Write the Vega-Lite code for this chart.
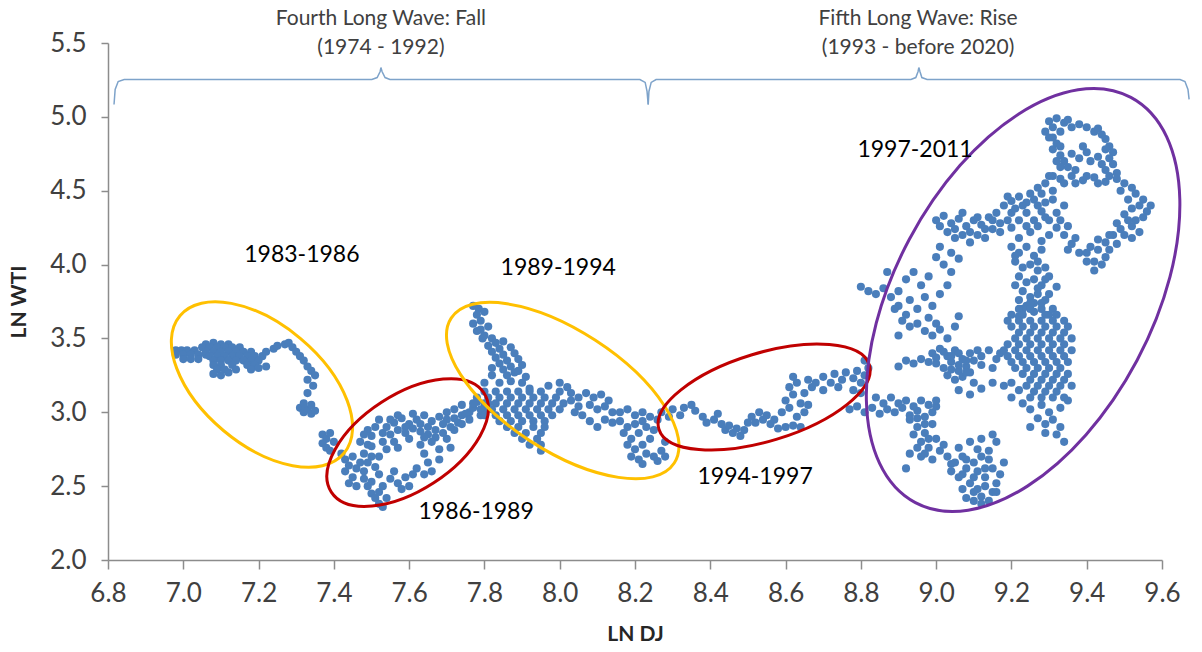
{
  "$schema": "https://vega.github.io/schema/vega-lite/v6.json",
  "width": 1054,
  "height": 517,
  "autosize": {"type": "none"},
  "padding": {"left": 108, "top": 43, "right": 40, "bottom": 92},
  "background": "white",
  "config": {"view": {"stroke": null}, "font": "Lato"},
  "encoding": {
    "x": {"field": "dj", "type": "quantitative", "title": "LN DJ",
      "scale": {"domain": [6.8, 9.6], "nice": false, "zero": false},
      "axis": {"values": [6.8, 7.0, 7.2, 7.4, 7.6, 7.8, 8.0, 8.2, 8.4, 8.6, 8.8, 9.0, 9.2, 9.4, 9.6], "format": ".1f", "grid": false,
        "domainColor": "#8c8c8c", "domainWidth": 1.5, "tickColor": "#8c8c8c", "tickWidth": 1.5, "tickSize": 9,
        "labelFontSize": 26, "labelColor": "#404040", "labelPadding": 11, "labelOverlap": false, "labelFlush": false, "labelFont": "Lato",
        "titleFontSize": 21, "titleFontWeight": "bold", "titleColor": "#262626", "titlePadding": 17, "titleFont": "Lato"}},
    "y": {"field": "wti", "type": "quantitative", "title": "LN WTI",
      "scale": {"domain": [2.0, 5.5], "nice": false, "zero": false},
      "axis": {"values": [2.0, 2.5, 3.0, 3.5, 4.0, 4.5, 5.0, 5.5], "format": ".1f", "grid": false,
        "domainColor": "#8c8c8c", "domainWidth": 1.5, "tickColor": "#8c8c8c", "tickWidth": 1.5, "tickSize": 7,
        "labelFontSize": 26, "labelColor": "#404040", "labelPadding": 15, "labelOverlap": false, "labelFlush": false, "labelFont": "Lato",
        "titleFontSize": 21, "titleFontWeight": "bold", "titleColor": "#262626", "titlePadding": 20, "titleFont": "Lato"}}
  },
  "layer": [
    {
      "data": {"values": [
        {"dj":6.98,"wti":3.42},{"dj":6.995,"wti":3.42},{"dj":7.01,"wti":3.42},{"dj":7.03,"wti":3.42},
        {"dj":6.98,"wti":3.39},{"dj":7.0,"wti":3.39},{"dj":7.02,"wti":3.39},{"dj":7.04,"wti":3.39},{"dj":7.06,"wti":3.39},
        {"dj":7.0,"wti":3.36},{"dj":7.02,"wti":3.36},{"dj":7.04,"wti":3.36},
        {"dj":7.06,"wti":3.46},{"dj":7.08,"wti":3.47},{"dj":7.1,"wti":3.46},{"dj":7.12,"wti":3.46},
        {"dj":7.05,"wti":3.44},{"dj":7.07,"wti":3.44},{"dj":7.09,"wti":3.44},{"dj":7.11,"wti":3.44},{"dj":7.13,"wti":3.44},{"dj":7.15,"wti":3.44},
        {"dj":7.06,"wti":3.41},{"dj":7.08,"wti":3.41},{"dj":7.1,"wti":3.41},{"dj":7.12,"wti":3.41},{"dj":7.14,"wti":3.41},{"dj":7.16,"wti":3.41},{"dj":7.18,"wti":3.41},
        {"dj":7.07,"wti":3.38},{"dj":7.09,"wti":3.38},{"dj":7.11,"wti":3.38},{"dj":7.13,"wti":3.38},{"dj":7.15,"wti":3.38},{"dj":7.17,"wti":3.38},{"dj":7.19,"wti":3.38},{"dj":7.21,"wti":3.38},
        {"dj":7.08,"wti":3.35},{"dj":7.1,"wti":3.35},{"dj":7.12,"wti":3.35},{"dj":7.14,"wti":3.35},{"dj":7.16,"wti":3.35},{"dj":7.18,"wti":3.35},{"dj":7.2,"wti":3.35},
        {"dj":7.08,"wti":3.32},{"dj":7.1,"wti":3.32},{"dj":7.13,"wti":3.32},{"dj":7.17,"wti":3.32},{"dj":7.19,"wti":3.32},
        {"dj":7.09,"wti":3.29},{"dj":7.11,"wti":3.29},{"dj":7.18,"wti":3.29},{"dj":7.2,"wti":3.3},{"dj":7.22,"wti":3.31},
        {"dj":7.08,"wti":3.26},{"dj":7.1,"wti":3.25},{"dj":7.12,"wti":3.27},{"dj":7.14,"wti":3.29},
        {"dj":7.22,"wti":3.41},{"dj":7.24,"wti":3.43},{"dj":7.25,"wti":3.45},{"dj":7.27,"wti":3.46},{"dj":7.28,"wti":3.47},{"dj":7.29,"wti":3.44},{"dj":7.3,"wti":3.41},{"dj":7.31,"wti":3.38},{"dj":7.32,"wti":3.35},{"dj":7.33,"wti":3.31},{"dj":7.34,"wti":3.28},{"dj":7.35,"wti":3.25},{"dj":7.33,"wti":3.22},{"dj":7.345,"wti":3.18},{"dj":7.33,"wti":3.13},
        {"dj":7.31,"wti":3.03},{"dj":7.32,"wti":3.0},{"dj":7.33,"wti":3.02},{"dj":7.34,"wti":2.99},{"dj":7.35,"wti":3.01},{"dj":7.32,"wti":3.06},{"dj":7.34,"wti":3.05},
        {"dj":7.37,"wti":2.85},{"dj":7.38,"wti":2.82},{"dj":7.39,"wti":2.86},{"dj":7.37,"wti":2.79},{"dj":7.38,"wti":2.76},{"dj":7.4,"wti":2.8},{"dj":7.39,"wti":2.74},

        {"dj":7.42,"wti":2.72},{"dj":7.43,"wti":2.68},{"dj":7.44,"wti":2.64},{"dj":7.43,"wti":2.6},{"dj":7.45,"wti":2.56},{"dj":7.44,"wti":2.52},{"dj":7.46,"wti":2.5},{"dj":7.45,"wti":2.7},{"dj":7.46,"wti":2.62},
        {"dj":7.48,"wti":2.55},{"dj":7.49,"wti":2.5},{"dj":7.5,"wti":2.45},{"dj":7.51,"wti":2.42},{"dj":7.52,"wti":2.38},{"dj":7.53,"wti":2.36},{"dj":7.52,"wti":2.46},{"dj":7.54,"wti":2.42},{"dj":7.5,"wti":2.53},{"dj":7.53,"wti":2.5},
        {"dj":7.47,"wti":2.66},{"dj":7.48,"wti":2.72},{"dj":7.49,"wti":2.78},{"dj":7.5,"wti":2.84},{"dj":7.51,"wti":2.9},{"dj":7.52,"wti":2.95},{"dj":7.47,"wti":2.8},{"dj":7.49,"wti":2.88},{"dj":7.5,"wti":2.7},{"dj":7.51,"wti":2.63},{"dj":7.52,"wti":2.58},
        {"dj":7.48,"wti":2.6},{"dj":7.49,"wti":2.66},{"dj":7.5,"wti":2.77},{"dj":7.48,"wti":2.85},{"dj":7.52,"wti":2.7},{"dj":7.54,"wti":2.75},{"dj":7.57,"wti":2.76},{"dj":7.53,"wti":2.86},
        {"dj":7.54,"wti":2.9},{"dj":7.56,"wti":2.93},{"dj":7.58,"wti":2.96},{"dj":7.6,"wti":2.92},{"dj":7.62,"wti":2.95},{"dj":7.64,"wti":2.98},{"dj":7.66,"wti":2.94},{"dj":7.68,"wti":2.97},{"dj":7.7,"wti":3.0},{"dj":7.72,"wti":2.96},
        {"dj":7.55,"wti":2.95},{"dj":7.57,"wti":2.98},{"dj":7.59,"wti":2.9},{"dj":7.61,"wti":2.99},{"dj":7.63,"wti":2.92},{"dj":7.65,"wti":2.85},{"dj":7.67,"wti":2.83},{"dj":7.69,"wti":2.86},{"dj":7.7,"wti":2.95},{"dj":7.72,"wti":2.88},{"dj":7.74,"wti":2.98},{"dj":7.76,"wti":3.0},
        {"dj":7.55,"wti":2.85},{"dj":7.57,"wti":2.88},{"dj":7.59,"wti":2.86},{"dj":7.61,"wti":2.89},{"dj":7.63,"wti":2.87},{"dj":7.65,"wti":2.9},{"dj":7.67,"wti":2.88},{"dj":7.69,"wti":2.92},{"dj":7.71,"wti":2.9},{"dj":7.73,"wti":2.93},
        {"dj":7.53,"wti":2.8},{"dj":7.56,"wti":2.8},{"dj":7.6,"wti":2.82},{"dj":7.64,"wti":2.83},
        {"dj":7.63,"wti":2.78},{"dj":7.64,"wti":2.72},{"dj":7.65,"wti":2.66},{"dj":7.66,"wti":2.6},{"dj":7.66,"wti":2.8},{"dj":7.68,"wti":2.75},{"dj":7.68,"wti":2.68},{"dj":7.7,"wti":2.82},{"dj":7.71,"wti":2.76},{"dj":7.64,"wti":2.58},{"dj":7.62,"wti":2.62},
        {"dj":7.55,"wti":2.55},{"dj":7.57,"wti":2.52},{"dj":7.59,"wti":2.56},{"dj":7.61,"wti":2.58},{"dj":7.56,"wti":2.6},{"dj":7.58,"wti":2.48},{"dj":7.6,"wti":2.5},
        {"dj":7.72,"wti":3.02},{"dj":7.74,"wti":3.05},{"dj":7.75,"wti":2.99},{"dj":7.77,"wti":3.03},{"dj":7.78,"wti":3.07},{"dj":7.8,"wti":3.02},{"dj":7.76,"wti":2.95},{"dj":7.79,"wti":2.98},{"dj":7.81,"wti":3.06},{"dj":7.74,"wti":2.92},

        {"dj":7.77,"wti":3.72},{"dj":7.785,"wti":3.7},{"dj":7.78,"wti":3.66},{"dj":7.79,"wti":3.62},{"dj":7.8,"wti":3.68},{"dj":7.77,"wti":3.6},{"dj":7.79,"wti":3.56},{"dj":7.81,"wti":3.58},{"dj":7.8,"wti":3.52},{"dj":7.82,"wti":3.5},
        {"dj":7.81,"wti":3.45},{"dj":7.83,"wti":3.47},{"dj":7.82,"wti":3.41},{"dj":7.84,"wti":3.43},{"dj":7.83,"wti":3.37},{"dj":7.85,"wti":3.39},{"dj":7.84,"wti":3.33},{"dj":7.86,"wti":3.35},{"dj":7.85,"wti":3.29},{"dj":7.87,"wti":3.31},
        {"dj":7.86,"wti":3.25},{"dj":7.88,"wti":3.27},{"dj":7.87,"wti":3.21},{"dj":7.78,"wti":3.55},{"dj":7.795,"wti":3.5},{"dj":7.82,"wti":3.3},{"dj":7.8,"wti":3.2},{"dj":7.84,"wti":3.2},{"dj":7.82,"wti":3.25},
        {"dj":7.85,"wti":3.48},{"dj":7.87,"wti":3.44},{"dj":7.88,"wti":3.4},{"dj":7.89,"wti":3.36},{"dj":7.9,"wti":3.32},{"dj":7.89,"wti":3.28},{"dj":7.91,"wti":3.24},{"dj":7.9,"wti":3.2},{"dj":7.92,"wti":3.16},
        {"dj":7.8,"wti":3.14},{"dj":7.83,"wti":3.14},{"dj":7.86,"wti":3.14},{"dj":7.89,"wti":3.14},{"dj":7.92,"wti":3.14},{"dj":7.95,"wti":3.14},
        {"dj":7.78,"wti":3.1},{"dj":7.81,"wti":3.1},{"dj":7.84,"wti":3.1},{"dj":7.87,"wti":3.1},{"dj":7.9,"wti":3.1},{"dj":7.93,"wti":3.1},{"dj":7.96,"wti":3.1},{"dj":7.99,"wti":3.1},
        {"dj":7.77,"wti":3.06},{"dj":7.8,"wti":3.06},{"dj":7.83,"wti":3.06},{"dj":7.86,"wti":3.06},{"dj":7.89,"wti":3.06},{"dj":7.92,"wti":3.06},{"dj":7.95,"wti":3.06},{"dj":7.98,"wti":3.06},{"dj":8.01,"wti":3.06},
        {"dj":7.79,"wti":3.02},{"dj":7.82,"wti":3.02},{"dj":7.85,"wti":3.02},{"dj":7.88,"wti":3.02},{"dj":7.91,"wti":3.02},{"dj":7.94,"wti":3.02},{"dj":7.97,"wti":3.02},{"dj":8.0,"wti":3.02},
        {"dj":7.8,"wti":2.98},{"dj":7.83,"wti":2.98},{"dj":7.86,"wti":2.98},{"dj":7.89,"wti":2.98},{"dj":7.92,"wti":2.98},{"dj":7.95,"wti":2.98},{"dj":7.98,"wti":2.98},
        {"dj":7.84,"wti":2.94},{"dj":7.87,"wti":2.94},{"dj":7.9,"wti":2.94},{"dj":7.93,"wti":2.94},{"dj":7.96,"wti":2.94},
        {"dj":7.86,"wti":2.9},{"dj":7.89,"wti":2.9},{"dj":7.93,"wti":2.9},{"dj":7.96,"wti":2.9},
        {"dj":7.88,"wti":2.86},{"dj":7.91,"wti":2.86},{"dj":7.95,"wti":2.86},{"dj":7.9,"wti":2.82},{"dj":7.94,"wti":2.82},{"dj":7.92,"wti":2.78},{"dj":7.95,"wti":2.78},{"dj":7.95,"wti":2.74},
        {"dj":7.97,"wti":3.18},{"dj":8.0,"wti":3.2},{"dj":8.02,"wti":3.17},{"dj":8.03,"wti":3.13},{"dj":8.0,"wti":3.14},{"dj":8.03,"wti":3.08},
        {"dj":8.05,"wti":3.1},{"dj":8.07,"wti":3.13},{"dj":8.09,"wti":3.1},{"dj":8.11,"wti":3.12},{"dj":8.13,"wti":3.08},{"dj":8.05,"wti":3.04},{"dj":8.08,"wti":3.05},{"dj":8.1,"wti":3.02},{"dj":8.12,"wti":3.04},{"dj":8.14,"wti":3.0},
        {"dj":8.06,"wti":2.98},{"dj":8.08,"wti":2.94},{"dj":8.1,"wti":2.9},{"dj":8.12,"wti":2.95},{"dj":8.14,"wti":2.93},{"dj":8.04,"wti":3.0},
        {"dj":8.16,"wti":3.0},{"dj":8.18,"wti":3.02},{"dj":8.2,"wti":2.98},{"dj":8.22,"wti":3.0},{"dj":8.24,"wti":2.97},{"dj":8.16,"wti":2.94},{"dj":8.18,"wti":2.9},{"dj":8.2,"wti":2.92},{"dj":8.22,"wti":2.94},{"dj":8.26,"wti":2.95},
        {"dj":8.17,"wti":2.86},{"dj":8.19,"wti":2.82},{"dj":8.21,"wti":2.86},{"dj":8.23,"wti":2.9},{"dj":8.25,"wti":2.88},{"dj":8.18,"wti":2.78},{"dj":8.2,"wti":2.75},{"dj":8.22,"wti":2.78},{"dj":8.24,"wti":2.82},
        {"dj":8.19,"wti":2.7},{"dj":8.21,"wti":2.68},{"dj":8.23,"wti":2.72},{"dj":8.25,"wti":2.7},{"dj":8.27,"wti":2.74},{"dj":8.22,"wti":2.65},{"dj":8.26,"wti":2.67},{"dj":8.28,"wti":2.8},{"dj":8.28,"wti":2.7},

        {"dj":8.27,"wti":3.0},{"dj":8.29,"wti":2.97},{"dj":8.3,"wti":3.02},{"dj":8.32,"wti":2.98},{"dj":8.33,"wti":3.03},{"dj":8.35,"wti":3.05},{"dj":8.36,"wti":3.01},{"dj":8.38,"wti":2.97},{"dj":8.39,"wti":2.93},{"dj":8.41,"wti":2.95},
        {"dj":8.42,"wti":2.99},{"dj":8.43,"wti":2.92},{"dj":8.44,"wti":2.88},{"dj":8.45,"wti":2.91},{"dj":8.46,"wti":2.86},{"dj":8.47,"wti":2.89},{"dj":8.48,"wti":2.84},{"dj":8.49,"wti":2.88},{"dj":8.5,"wti":2.93},{"dj":8.51,"wti":2.97},
        {"dj":8.52,"wti":2.93},{"dj":8.53,"wti":3.0},{"dj":8.54,"wti":2.95},{"dj":8.55,"wti":2.98},{"dj":8.56,"wti":2.92},{"dj":8.57,"wti":2.95},
        {"dj":8.58,"wti":2.89},{"dj":8.6,"wti":2.9},{"dj":8.62,"wti":2.91},{"dj":8.64,"wti":2.9},
        {"dj":8.59,"wti":3.0},{"dj":8.61,"wti":3.03},{"dj":8.6,"wti":3.08},{"dj":8.62,"wti":3.12},{"dj":8.61,"wti":3.17},{"dj":8.63,"wti":3.2},{"dj":8.64,"wti":3.06},{"dj":8.65,"wti":3.13},{"dj":8.66,"wti":3.22},{"dj":8.63,"wti":2.97},{"dj":8.65,"wti":3.0},{"dj":8.67,"wti":3.17},{"dj":8.62,"wti":3.24},{"dj":8.66,"wti":3.05},
        {"dj":8.68,"wti":3.2},{"dj":8.7,"wti":3.24},{"dj":8.72,"wti":3.2},{"dj":8.73,"wti":3.26},{"dj":8.75,"wti":3.22},{"dj":8.76,"wti":3.27},{"dj":8.78,"wti":3.23},{"dj":8.79,"wti":3.28},{"dj":8.81,"wti":3.25},{"dj":8.8,"wti":3.2},{"dj":8.82,"wti":3.3},{"dj":8.81,"wti":3.35},
        {"dj":8.7,"wti":3.15},{"dj":8.74,"wti":3.17},{"dj":8.78,"wti":3.15},{"dj":8.8,"wti":3.13},
        {"dj":8.77,"wti":3.02},{"dj":8.79,"wti":3.04},{"dj":8.81,"wti":3.0},{"dj":8.83,"wti":3.03},{"dj":8.85,"wti":2.99},{"dj":8.87,"wti":3.02},{"dj":8.89,"wti":3.0},{"dj":8.91,"wti":3.03},{"dj":8.93,"wti":2.98},{"dj":8.95,"wti":3.01},{"dj":8.97,"wti":2.97},{"dj":8.99,"wti":3.0},{"dj":9.0,"wti":3.04},

        {"dj":9.3,"wti":4.97},{"dj":9.32,"wti":4.99},{"dj":9.34,"wti":4.96},{"dj":9.31,"wti":4.93},{"dj":9.29,"wti":4.9},{"dj":9.3,"wti":4.86},{"dj":9.32,"wti":4.82},{"dj":9.31,"wti":4.78},{"dj":9.33,"wti":4.74},{"dj":9.34,"wti":4.7},
        {"dj":9.36,"wti":4.93},{"dj":9.38,"wti":4.95},{"dj":9.4,"wti":4.93},{"dj":9.42,"wti":4.9},{"dj":9.44,"wti":4.88},{"dj":9.45,"wti":4.85},{"dj":9.46,"wti":4.8},{"dj":9.47,"wti":4.76},{"dj":9.46,"wti":4.72},{"dj":9.47,"wti":4.68},
        {"dj":9.45,"wti":4.64},{"dj":9.48,"wti":4.62},{"dj":9.36,"wti":4.75},{"dj":9.38,"wti":4.72},{"dj":9.4,"wti":4.76},{"dj":9.39,"wti":4.8},{"dj":9.43,"wti":4.73},{"dj":9.35,"wti":4.66},{"dj":9.37,"wti":4.64},
        {"dj":9.33,"wti":4.9},{"dj":9.31,"wti":4.86},{"dj":9.33,"wti":4.8},{"dj":9.35,"wti":4.98},{"dj":9.43,"wti":4.92},{"dj":9.45,"wti":4.78},{"dj":9.44,"wti":4.68},{"dj":9.41,"wti":4.7},{"dj":9.33,"wti":4.66},{"dj":9.32,"wti":4.7},
        {"dj":9.3,"wti":4.6},{"dj":9.33,"wti":4.58},{"dj":9.36,"wti":4.6},{"dj":9.39,"wti":4.57},{"dj":9.42,"wti":4.59},{"dj":9.45,"wti":4.56},{"dj":9.48,"wti":4.58},{"dj":9.5,"wti":4.55},{"dj":9.52,"wti":4.52},
        {"dj":9.53,"wti":4.48},{"dj":9.55,"wti":4.44},{"dj":9.54,"wti":4.4},{"dj":9.56,"wti":4.36},{"dj":9.55,"wti":4.32},{"dj":9.53,"wti":4.3},{"dj":9.5,"wti":4.34},{"dj":9.52,"wti":4.26},{"dj":9.54,"wti":4.22},{"dj":9.52,"wti":4.18},{"dj":9.5,"wti":4.2},{"dj":9.57,"wti":4.4},{"dj":9.48,"wti":4.28},
        {"dj":9.48,"wti":4.14},{"dj":9.46,"wti":4.1},{"dj":9.45,"wti":4.05},{"dj":9.44,"wti":4.0},{"dj":9.42,"wti":3.96},{"dj":9.4,"wti":4.02},{"dj":9.38,"wti":4.08},{"dj":9.41,"wti":4.12},{"dj":9.36,"wti":4.14},{"dj":9.35,"wti":4.1},{"dj":9.43,"wti":4.17},
        {"dj":9.31,"wti":4.6},{"dj":9.34,"wti":4.55},{"dj":9.37,"wti":4.55},{"dj":9.4,"wti":4.6},{"dj":9.43,"wti":4.55},{"dj":9.46,"wti":4.6},{"dj":9.49,"wti":4.5},{"dj":9.51,"wti":4.44},{"dj":9.52,"wti":4.38},{"dj":9.51,"wti":4.3},
        {"dj":9.49,"wti":4.24},{"dj":9.47,"wti":4.2},{"dj":9.45,"wti":4.15},{"dj":9.43,"wti":4.1},{"dj":9.4,"wti":4.08},{"dj":9.37,"wti":4.18},{"dj":9.42,"wti":4.02},{"dj":9.46,"wti":4.2},
        {"dj":9.18,"wti":4.4},{"dj":9.2,"wti":4.43},{"dj":9.22,"wti":4.46},{"dj":9.24,"wti":4.42},{"dj":9.26,"wti":4.44},{"dj":9.28,"wti":4.48},{"dj":9.27,"wti":4.52},{"dj":9.29,"wti":4.55},{"dj":9.31,"wti":4.5},{"dj":9.2,"wti":4.35},
        {"dj":9.22,"wti":4.3},{"dj":9.24,"wti":4.35},{"dj":9.26,"wti":4.3},{"dj":9.28,"wti":4.36},{"dj":9.3,"wti":4.3},{"dj":9.32,"wti":4.25},{"dj":9.34,"wti":4.2},{"dj":9.3,"wti":4.2},{"dj":9.25,"wti":4.22},{"dj":9.2,"wti":4.25},{"dj":9.28,"wti":4.16},{"dj":9.22,"wti":4.18},{"dj":9.32,"wti":4.35},{"dj":9.34,"wti":4.4},
        {"dj":9.19,"wti":4.46},{"dj":9.21,"wti":4.38},{"dj":9.23,"wti":4.4},{"dj":9.25,"wti":4.48},{"dj":9.27,"wti":4.4},{"dj":9.29,"wti":4.42},{"dj":9.31,"wti":4.44},{"dj":9.29,"wti":4.32},{"dj":9.27,"wti":4.26},{"dj":9.24,"wti":4.26},{"dj":9.33,"wti":4.3},{"dj":9.35,"wti":4.26},
        {"dj":9.0,"wti":4.3},{"dj":9.02,"wti":4.33},{"dj":9.04,"wti":4.28},{"dj":9.06,"wti":4.31},{"dj":9.08,"wti":4.26},{"dj":9.1,"wti":4.3},{"dj":9.12,"wti":4.27},{"dj":9.14,"wti":4.32},{"dj":9.16,"wti":4.35},
        {"dj":9.03,"wti":4.22},{"dj":9.05,"wti":4.18},{"dj":9.07,"wti":4.2},{"dj":9.09,"wti":4.15},{"dj":9.11,"wti":4.2},{"dj":9.13,"wti":4.18},{"dj":9.15,"wti":4.24},{"dj":9.17,"wti":4.28},{"dj":9.01,"wti":4.12},{"dj":9.04,"wti":4.08},{"dj":9.06,"wti":4.04},{"dj":9.0,"wti":4.05},{"dj":9.02,"wti":4.0},
        {"dj":9.01,"wti":4.26},{"dj":9.05,"wti":4.24},{"dj":9.09,"wti":4.22},{"dj":9.13,"wti":4.24},{"dj":9.17,"wti":4.22},{"dj":9.19,"wti":4.3},{"dj":9.15,"wti":4.3},{"dj":9.11,"wti":4.32},{"dj":9.07,"wti":4.35},
        {"dj":8.8,"wti":3.85},{"dj":8.82,"wti":3.82},{"dj":8.84,"wti":3.8},{"dj":8.86,"wti":3.84},{"dj":8.88,"wti":3.78},{"dj":8.9,"wti":3.82},{"dj":8.92,"wti":3.9},{"dj":8.94,"wti":3.95},{"dj":8.96,"wti":3.86},{"dj":8.98,"wti":3.92},
        {"dj":8.9,"wti":3.72},{"dj":8.93,"wti":3.76},{"dj":8.95,"wti":3.7},{"dj":8.97,"wti":3.78},{"dj":8.99,"wti":3.72},{"dj":9.01,"wti":3.8},{"dj":9.03,"wti":3.86},{"dj":8.98,"wti":3.64},{"dj":9.0,"wti":3.6},{"dj":8.92,"wti":3.66},{"dj":9.04,"wti":3.95},{"dj":8.87,"wti":3.95},
        {"dj":9.2,"wti":4.12},{"dj":9.22,"wti":4.08},{"dj":9.24,"wti":4.12},{"dj":9.26,"wti":4.06},{"dj":9.28,"wti":4.1},{"dj":9.21,"wti":4.02},{"dj":9.23,"wti":3.98},{"dj":9.25,"wti":4.0},{"dj":9.27,"wti":3.96},{"dj":9.22,"wti":3.92},
        {"dj":9.24,"wti":3.88},{"dj":9.26,"wti":3.9},{"dj":9.28,"wti":3.86},{"dj":9.23,"wti":3.82},{"dj":9.25,"wti":3.78},{"dj":9.27,"wti":3.8},{"dj":9.29,"wti":3.76},{"dj":9.24,"wti":3.72},{"dj":9.26,"wti":3.68},{"dj":9.28,"wti":3.7},
        {"dj":9.3,"wti":3.66},{"dj":9.22,"wti":3.65},{"dj":9.25,"wti":3.62},{"dj":9.3,"wti":3.92},{"dj":9.32,"wti":3.85},
        {"dj":9.21,"wti":4.06},{"dj":9.27,"wti":4.02},{"dj":9.29,"wti":3.98},{"dj":9.21,"wti":3.86},{"dj":9.27,"wti":3.84},{"dj":9.29,"wti":3.9},{"dj":9.22,"wti":3.76},{"dj":9.26,"wti":3.74},{"dj":9.3,"wti":3.8},{"dj":9.23,"wti":3.7},
        {"dj":8.89,"wti":3.7},{"dj":8.91,"wti":3.62},{"dj":8.93,"wti":3.58},{"dj":8.95,"wti":3.6},{"dj":8.97,"wti":3.55},{"dj":8.99,"wti":3.52},{"dj":9.01,"wti":3.56},{"dj":9.03,"wti":3.5},{"dj":9.05,"wti":3.58},{"dj":8.9,"wti":3.52},{"dj":9.06,"wti":3.65},
        {"dj":8.99,"wti":3.4},{"dj":9.01,"wti":3.43},{"dj":9.03,"wti":3.38},{"dj":9.05,"wti":3.42},{"dj":9.07,"wti":3.36},{"dj":9.09,"wti":3.4},{"dj":9.0,"wti":3.33},{"dj":9.02,"wti":3.3},{"dj":9.04,"wti":3.34},{"dj":9.06,"wti":3.28},
        {"dj":9.08,"wti":3.31},{"dj":9.1,"wti":3.35},{"dj":9.03,"wti":3.25},{"dj":9.05,"wti":3.22},{"dj":9.07,"wti":3.24},{"dj":9.09,"wti":3.27},{"dj":8.96,"wti":3.36},{"dj":8.94,"wti":3.33},{"dj":8.92,"wti":3.35},{"dj":8.9,"wti":3.31},
        {"dj":9.0,"wti":3.37},{"dj":9.02,"wti":3.41},{"dj":9.04,"wti":3.38},{"dj":9.06,"wti":3.4},{"dj":9.08,"wti":3.35},{"dj":9.04,"wti":3.29},{"dj":9.06,"wti":3.32},{"dj":9.08,"wti":3.27},{"dj":8.98,"wti":3.34},{"dj":9.11,"wti":3.42},
        {"dj":9.12,"wti":3.38},{"dj":9.14,"wti":3.42},{"dj":9.16,"wti":3.36},{"dj":9.12,"wti":3.32},{"dj":9.15,"wti":3.3},{"dj":9.17,"wti":3.4},
        {"dj":9.25,"wti":3.74},{"dj":9.28,"wti":3.74},
        {"dj":9.22,"wti":3.7},{"dj":9.25,"wti":3.7},{"dj":9.31,"wti":3.7},
        {"dj":9.2,"wti":3.66},{"dj":9.23,"wti":3.66},{"dj":9.29,"wti":3.66},{"dj":9.32,"wti":3.66},
        {"dj":9.19,"wti":3.62},{"dj":9.22,"wti":3.62},{"dj":9.28,"wti":3.62},{"dj":9.31,"wti":3.62},{"dj":9.34,"wti":3.62},
        {"dj":9.2,"wti":3.58},{"dj":9.23,"wti":3.58},{"dj":9.26,"wti":3.58},{"dj":9.29,"wti":3.58},{"dj":9.32,"wti":3.58},{"dj":9.35,"wti":3.58},
        {"dj":9.22,"wti":3.54},{"dj":9.25,"wti":3.54},{"dj":9.28,"wti":3.54},{"dj":9.31,"wti":3.54},{"dj":9.34,"wti":3.54},
        {"dj":9.21,"wti":3.5},{"dj":9.24,"wti":3.5},{"dj":9.27,"wti":3.5},{"dj":9.3,"wti":3.5},{"dj":9.33,"wti":3.5},{"dj":9.36,"wti":3.5},
        {"dj":9.19,"wti":3.46},{"dj":9.22,"wti":3.46},{"dj":9.25,"wti":3.46},{"dj":9.28,"wti":3.46},{"dj":9.31,"wti":3.46},{"dj":9.34,"wti":3.46},
        {"dj":9.18,"wti":3.42},{"dj":9.21,"wti":3.42},{"dj":9.24,"wti":3.42},{"dj":9.27,"wti":3.42},{"dj":9.3,"wti":3.42},{"dj":9.33,"wti":3.42},{"dj":9.36,"wti":3.42},
        {"dj":9.19,"wti":3.38},{"dj":9.22,"wti":3.38},{"dj":9.25,"wti":3.38},{"dj":9.28,"wti":3.38},{"dj":9.31,"wti":3.38},{"dj":9.34,"wti":3.38},
        {"dj":9.2,"wti":3.34},{"dj":9.23,"wti":3.34},{"dj":9.26,"wti":3.34},{"dj":9.29,"wti":3.34},{"dj":9.32,"wti":3.34},{"dj":9.35,"wti":3.34},
        {"dj":9.21,"wti":3.3},{"dj":9.24,"wti":3.3},{"dj":9.27,"wti":3.3},{"dj":9.3,"wti":3.3},{"dj":9.33,"wti":3.3},
        {"dj":9.23,"wti":3.26},{"dj":9.26,"wti":3.26},{"dj":9.29,"wti":3.26},{"dj":9.32,"wti":3.26},{"dj":9.35,"wti":3.26},
        {"dj":9.25,"wti":3.22},{"dj":9.28,"wti":3.22},{"dj":9.31,"wti":3.22},{"dj":9.34,"wti":3.22},
        {"dj":9.24,"wti":3.18},{"dj":9.27,"wti":3.18},{"dj":9.3,"wti":3.18},{"dj":9.33,"wti":3.18},{"dj":9.36,"wti":3.18},
        {"dj":9.26,"wti":3.14},{"dj":9.29,"wti":3.14},{"dj":9.32,"wti":3.14},
        {"dj":9.25,"wti":3.1},{"dj":9.28,"wti":3.1},{"dj":9.31,"wti":3.1},{"dj":9.34,"wti":3.1},
        {"dj":9.2,"wti":3.2},{"dj":9.22,"wti":3.15},{"dj":9.2,"wti":3.1},{"dj":9.23,"wti":3.06},{"dj":9.25,"wti":3.02},{"dj":9.28,"wti":3.05},{"dj":9.3,"wti":3.0},{"dj":9.33,"wti":3.03},{"dj":9.35,"wti":3.08},
        {"dj":9.27,"wti":2.96},{"dj":9.29,"wti":2.92},{"dj":9.31,"wti":2.95},{"dj":9.33,"wti":2.9},{"dj":9.32,"wti":2.85},{"dj":9.34,"wti":2.8},{"dj":9.29,"wti":2.86},{"dj":9.25,"wti":2.9},
        {"dj":9.06,"wti":3.15},{"dj":9.09,"wti":3.12},{"dj":9.12,"wti":3.16},{"dj":9.15,"wti":3.2},{"dj":9.18,"wti":3.18},{"dj":9.1,"wti":3.2},
        {"dj":8.84,"wti":3.1},{"dj":8.86,"wti":3.06},{"dj":8.88,"wti":3.1},{"dj":8.9,"wti":3.06},{"dj":8.92,"wti":3.08},{"dj":8.94,"wti":3.04},{"dj":8.96,"wti":3.08},{"dj":8.98,"wti":3.05},{"dj":9.0,"wti":3.08},
        {"dj":8.93,"wti":2.95},{"dj":8.95,"wti":2.9},{"dj":8.94,"wti":2.85},{"dj":8.96,"wti":2.8},{"dj":8.97,"wti":2.86},{"dj":8.99,"wti":2.92},{"dj":9.0,"wti":2.82},{"dj":8.98,"wti":2.76},{"dj":9.01,"wti":2.74},{"dj":8.96,"wti":2.7},
        {"dj":8.99,"wti":2.68},{"dj":9.02,"wti":2.78},{"dj":8.93,"wti":2.72},{"dj":8.92,"wti":2.62},{"dj":8.95,"wti":2.76},{"dj":8.97,"wti":2.72},{"dj":8.98,"wti":2.82},{"dj":8.95,"wti":2.96},{"dj":8.97,"wti":2.92},
        {"dj":9.03,"wti":2.7},{"dj":9.05,"wti":2.66},{"dj":9.07,"wti":2.7},{"dj":9.04,"wti":2.6},{"dj":9.06,"wti":2.56},{"dj":9.08,"wti":2.62},{"dj":9.1,"wti":2.66},{"dj":9.12,"wti":2.7},{"dj":9.14,"wti":2.74},{"dj":9.16,"wti":2.8},
        {"dj":9.11,"wti":2.6},{"dj":9.13,"wti":2.56},{"dj":9.15,"wti":2.62},{"dj":9.09,"wti":2.52},{"dj":9.11,"wti":2.48},{"dj":9.13,"wti":2.5},{"dj":9.15,"wti":2.46},{"dj":9.07,"wti":2.48},{"dj":9.08,"wti":2.42},{"dj":9.1,"wti":2.4},
        {"dj":9.12,"wti":2.43},{"dj":9.14,"wti":2.4},{"dj":9.16,"wti":2.52},{"dj":9.17,"wti":2.58},{"dj":9.18,"wti":2.66},{"dj":9.06,"wti":2.76},{"dj":9.09,"wti":2.8},{"dj":9.12,"wti":2.82},{"dj":9.15,"wti":2.85},
        {"dj":9.04,"wti":2.65},{"dj":9.07,"wti":2.58},{"dj":9.1,"wti":2.56},{"dj":9.13,"wti":2.62},{"dj":9.14,"wti":2.68},{"dj":9.1,"wti":2.46},{"dj":9.12,"wti":2.38},{"dj":9.16,"wti":2.46},{"dj":9.08,"wti":2.68},{"dj":9.11,"wti":2.75}
      ]},
      "mark": {"type": "circle", "size": 66, "color": "#4A7EBB", "opacity": 1}
    },
    {
      "data": {"values": [{"dj": 7.209, "wti": 3.188}]},
      "mark": {"type": "point", "shape": "M -1 0 A 1 0.561 0 1 1 1 0 A 1 0.561 0 1 1 -1 0 Z", "size": 45796, "angle": 40, "filled": false, "color": "#FFC000", "strokeWidth": 3, "opacity": 1}
    },
    {
      "data": {"values": [{"dj": 7.596, "wti": 2.795}]},
      "mark": {"type": "point", "shape": "M -1 0 A 1 0.527 0 1 1 1 0 A 1 0.527 0 1 1 -1 0 Z", "size": 33124, "angle": 327, "filled": false, "color": "#C00000", "strokeWidth": 3, "opacity": 1}
    },
    {
      "data": {"values": [{"dj": 8.008, "wti": 3.147}]},
      "mark": {"type": "point", "shape": "M -1 0 A 1 0.451 0 1 1 1 0 A 1 0.451 0 1 1 -1 0 Z", "size": 70756, "angle": 33, "filled": false, "color": "#FFC000", "strokeWidth": 3, "opacity": 1}
    },
    {
      "data": {"values": [{"dj": 8.543, "wti": 3.103}]},
      "mark": {"type": "point", "shape": "M -1 0 A 1 0.4 0 1 1 1 0 A 1 0.4 0 1 1 -1 0 Z", "size": 48400, "angle": 343, "filled": false, "color": "#C00000", "strokeWidth": 3, "opacity": 1}
    },
    {
      "data": {"values": [{"dj": 9.231, "wti": 3.76}]},
      "mark": {"type": "point", "shape": "M -1 0 A 1 0.562 0 1 1 1 0 A 1 0.562 0 1 1 -1 0 Z", "size": 210681, "angle": 298, "filled": false, "color": "#7030A0", "strokeWidth": 3, "opacity": 1}
    },
    {
      "data": {"values": [
        {"dj": 7.315, "wti": 4.068, "label": "1983-1986"},
        {"dj": 7.996, "wti": 3.98, "label": "1989-1994"},
        {"dj": 7.778, "wti": 2.328, "label": "1986-1989"},
        {"dj": 8.519, "wti": 2.565, "label": "1994-1997"},
        {"dj": 8.944, "wti": 4.779, "label": "1997-2011"}
      ]},
      "mark": {"type": "text", "font": "Lato", "fontSize": 23, "color": "#000000", "align": "center", "baseline": "middle"},
      "encoding": {"text": {"field": "label", "type": "nominal"}}
    },
    {
      "data": {"values": [
        {"brace": "a", "dj": 6.816, "wti": 5.084}, {"brace": "a", "dj": 6.819, "wti": 5.185}, {"brace": "a", "dj": 6.827, "wti": 5.239}, {"brace": "a", "dj": 6.843, "wti": 5.253},
        {"brace": "a", "dj": 7.501, "wti": 5.253}, {"brace": "a", "dj": 7.515, "wti": 5.266}, {"brace": "a", "dj": 7.523, "wti": 5.307}, {"brace": "a", "dj": 7.525, "wti": 5.334},
        {"brace": "a", "dj": 7.528, "wti": 5.307}, {"brace": "a", "dj": 7.536, "wti": 5.266}, {"brace": "a", "dj": 7.549, "wti": 5.253}, {"brace": "a", "dj": 8.213, "wti": 5.253},
        {"brace": "a", "dj": 8.227, "wti": 5.233}, {"brace": "a", "dj": 8.232, "wti": 5.172}, {"brace": "a", "dj": 8.235, "wti": 5.084},
        {"brace": "b", "dj": 8.2351, "wti": 5.084}, {"brace": "b", "dj": 8.237, "wti": 5.172}, {"brace": "b", "dj": 8.243, "wti": 5.233}, {"brace": "b", "dj": 8.256, "wti": 5.253},
        {"brace": "b", "dj": 8.933, "wti": 5.253}, {"brace": "b", "dj": 8.946, "wti": 5.266}, {"brace": "b", "dj": 8.952, "wti": 5.307}, {"brace": "b", "dj": 8.954, "wti": 5.334},
        {"brace": "b", "dj": 8.957, "wti": 5.307}, {"brace": "b", "dj": 8.962, "wti": 5.266}, {"brace": "b", "dj": 8.976, "wti": 5.253}, {"brace": "b", "dj": 9.648, "wti": 5.253},
        {"brace": "b", "dj": 9.661, "wti": 5.239}, {"brace": "b", "dj": 9.669, "wti": 5.185}, {"brace": "b", "dj": 9.672, "wti": 5.118}
      ]},
      "mark": {"type": "line", "color": "#7EA3CA", "strokeWidth": 1.5},
      "encoding": {"detail": {"field": "brace", "type": "nominal"}}
    },
    {
      "data": {"values": [
        {"dj": 7.525, "wti": 5.662, "label": "Fourth Long Wave: Fall"},
        {"dj": 7.525, "wti": 5.463, "label": "(1974 - 1992)"},
        {"dj": 8.952, "wti": 5.662, "label": "Fifth Long Wave: Rise"},
        {"dj": 8.952, "wti": 5.463, "label": "(1993 - before 2020)"}
      ]},
      "mark": {"type": "text", "font": "Lato", "fontSize": 21, "color": "#404040", "align": "center", "baseline": "middle"},
      "encoding": {"text": {"field": "label", "type": "nominal"}}
    }
  ]
}
